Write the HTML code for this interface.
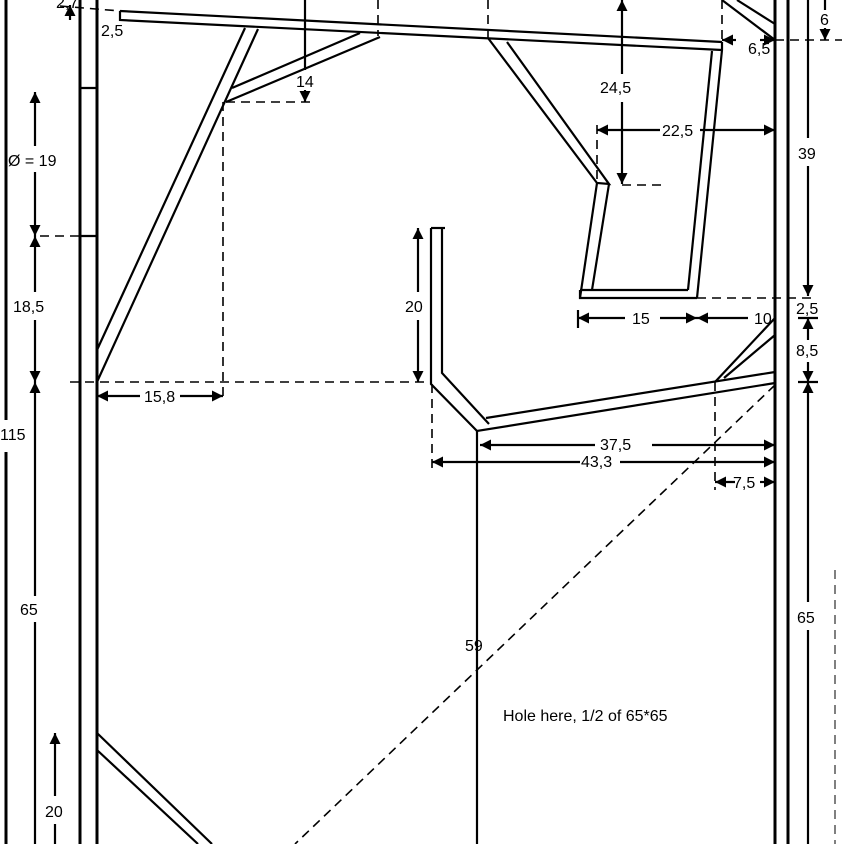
<!DOCTYPE html>
<html><head><meta charset="utf-8"><style>
html,body{margin:0;padding:0;background:#fff}
svg text{font-family:"Liberation Sans",sans-serif;font-size:16px;fill:#000}
</style></head><body>
<svg width="844" height="844" viewBox="0 0 844 844" xmlns="http://www.w3.org/2000/svg">
<defs>
<marker id="a" viewBox="0 0 10 10" refX="10" refY="5" markerWidth="5" markerHeight="5" orient="auto-start-reverse"><path d="M0,0 L10,5 L0,10 z" fill="#000"/></marker>
</defs>
<rect width="844" height="844" fill="#fff"/>
<g stroke="#000" fill="none" stroke-width="2.2">
<line x1="80" y1="0" x2="80" y2="844" stroke-width="3"/>
<line x1="97" y1="0" x2="97" y2="844" stroke-width="3"/>
<line x1="80" y1="88" x2="97" y2="88"/>
<line x1="80" y1="236" x2="97" y2="236"/>
<line x1="775" y1="0" x2="775" y2="844" stroke-width="3"/>
<line x1="788" y1="0" x2="788" y2="844" stroke-width="3"/>
<polyline points="120,11 722,42"/>
<polyline points="120,11 120,20 722,50"/>
<polyline points="722,42 722,50 697,298"/>
<line x1="712" y1="51" x2="688" y2="290"/>
<polyline points="580,290 688,290"/>
<polyline points="580,290 580,298 697,298"/>
<line x1="580" y1="298" x2="597" y2="183"/>
<line x1="592" y1="290" x2="609" y2="184"/>
<polyline points="488,38 597,183 609,184 507,42"/>
<line x1="97" y1="350" x2="245" y2="28"/>
<line x1="97" y1="382" x2="258" y2="29"/>
<line x1="232" y1="88" x2="360" y2="33"/>
<line x1="226" y1="102" x2="380" y2="37"/>
<line x1="737" y1="0" x2="775" y2="24"/>
<line x1="722" y1="0" x2="775" y2="40"/>
<polyline points="431,228 431,384 477,431 775,383"/>
<polyline points="442,228 442,373 489,424"/>
<line x1="431" y1="228" x2="445" y2="228"/>
<line x1="486" y1="418" x2="775" y2="372"/>
<line x1="715" y1="382" x2="775" y2="318"/>
<line x1="724" y1="378" x2="775" y2="335"/>
<line x1="477" y1="431" x2="477" y2="844"/>
<line x1="97" y1="733" x2="212" y2="844"/>
<line x1="97" y1="750" x2="198" y2="844"/>
</g>
<g stroke="#000" fill="none" stroke-width="1.6" stroke-dasharray="9,6">
<line x1="223" y1="102" x2="223" y2="396"/>
<line x1="226" y1="102" x2="312" y2="102"/>
<line x1="378" y1="0" x2="378" y2="36"/>
<line x1="488" y1="0" x2="488" y2="38"/>
<line x1="722" y1="0" x2="722" y2="42"/>
<line x1="70" y1="382" x2="432" y2="382"/>
<line x1="775" y1="40" x2="842" y2="40"/>
<line x1="697" y1="298" x2="812" y2="298"/>
<line x1="40" y1="236" x2="80" y2="236"/>
<line x1="597" y1="125" x2="597" y2="183"/>
<line x1="622" y1="185" x2="665" y2="185"/>
<line x1="432" y1="384" x2="432" y2="468"/>
<line x1="715" y1="382" x2="715" y2="490"/>
<line x1="775" y1="385" x2="295" y2="844"/>
<line x1="835" y1="570" x2="835" y2="844" stroke-width="1"/>
<line x1="60" y1="6" x2="120" y2="11"/>
</g>
<g stroke="#000" fill="none" stroke-width="2.2">
<line x1="6" y1="0" x2="6" y2="420" stroke-width="3"/>
<line x1="6" y1="452" x2="6" y2="844" stroke-width="3"/>
<line x1="35" y1="92" x2="35" y2="146" marker-start="url(#a)"/>
<line x1="35" y1="172" x2="35" y2="236" marker-end="url(#a)"/>
<line x1="35" y1="236" x2="35" y2="292" marker-start="url(#a)"/>
<line x1="35" y1="320" x2="35" y2="382" marker-end="url(#a)"/>
<line x1="35" y1="382" x2="35" y2="596" marker-start="url(#a)"/>
<line x1="35" y1="622" x2="35" y2="844"/>
<line x1="55" y1="733" x2="55" y2="796" marker-start="url(#a)"/>
<line x1="55" y1="824" x2="55" y2="844"/>
<line x1="70" y1="5" x2="70" y2="20" marker-start="url(#a)"/>
<line x1="305" y1="0" x2="305" y2="70"/>
<line x1="305" y1="90" x2="305" y2="102" marker-end="url(#a)"/>
<line x1="622" y1="0" x2="622" y2="74" marker-start="url(#a)"/>
<line x1="622" y1="102" x2="622" y2="184" marker-end="url(#a)"/>
<line x1="597" y1="130" x2="660" y2="130" marker-start="url(#a)"/>
<line x1="700" y1="130" x2="775" y2="130" marker-end="url(#a)"/>
<line x1="418" y1="228" x2="418" y2="292" marker-start="url(#a)"/>
<line x1="418" y1="320" x2="418" y2="382" marker-end="url(#a)"/>
<line x1="97" y1="396" x2="140" y2="396" marker-start="url(#a)"/>
<line x1="180" y1="396" x2="223" y2="396" marker-end="url(#a)"/>
<line x1="578" y1="318" x2="625" y2="318" marker-start="url(#a)"/>
<line x1="660" y1="318" x2="697" y2="318" marker-end="url(#a)"/>
<line x1="697" y1="318" x2="748" y2="318" marker-start="url(#a)"/>
<line x1="578" y1="310" x2="578" y2="328"/>
<line x1="480" y1="445" x2="595" y2="445" marker-start="url(#a)"/>
<line x1="652" y1="445" x2="775" y2="445" marker-end="url(#a)"/>
<line x1="432" y1="462" x2="580" y2="462" marker-start="url(#a)"/>
<line x1="620" y1="462" x2="775" y2="462" marker-end="url(#a)"/>
<line x1="715" y1="482" x2="735" y2="482" marker-start="url(#a)"/>
<line x1="760" y1="482" x2="775" y2="482" marker-end="url(#a)"/>
<line x1="808" y1="0" x2="808" y2="138"/>
<line x1="808" y1="166" x2="808" y2="296" marker-end="url(#a)"/>
<line x1="808" y1="318" x2="808" y2="340" marker-start="url(#a)"/>
<line x1="808" y1="362" x2="808" y2="382" marker-end="url(#a)"/>
<line x1="808" y1="382" x2="808" y2="602" marker-start="url(#a)"/>
<line x1="808" y1="630" x2="808" y2="844"/>
<line x1="825" y1="0" x2="825" y2="10"/>
<line x1="825" y1="28" x2="825" y2="40" marker-end="url(#a)"/>
<line x1="798" y1="382" x2="818" y2="382"/>
<line x1="798" y1="318" x2="818" y2="318"/>
<line x1="760" y1="40" x2="775" y2="40" marker-end="url(#a)"/>
<line x1="736" y1="40" x2="722" y2="40" marker-end="url(#a)"/>
</g>
<text x="56" y="8" font-size="13">2,7</text>
<text x="101" y="36">2,5</text>
<text x="296" y="87">14</text>
<text x="600" y="93">24,5</text>
<text x="662" y="136">22,5</text>
<text x="748" y="54">6,5</text>
<text x="820" y="25">6</text>
<text x="798" y="159">39</text>
<text x="8" y="166">Ø = 19</text>
<text x="13" y="312">18,5</text>
<text x="0" y="440">115</text>
<text x="20" y="615">65</text>
<text x="45" y="817">20</text>
<text x="405" y="312">20</text>
<text x="144" y="402">15,8</text>
<text x="632" y="324">15</text>
<text x="754" y="324">10</text>
<text x="796" y="314" font-size="13">2,5</text>
<text x="796" y="356">8,5</text>
<text x="600" y="450">37,5</text>
<text x="581" y="467">43,3</text>
<text x="733" y="488">7,5</text>
<text x="465" y="651">59</text>
<text x="797" y="623">65</text>
<text x="503" y="721" font-size="14">Hole here, 1/2 of 65*65</text>
</svg>
</body></html>
